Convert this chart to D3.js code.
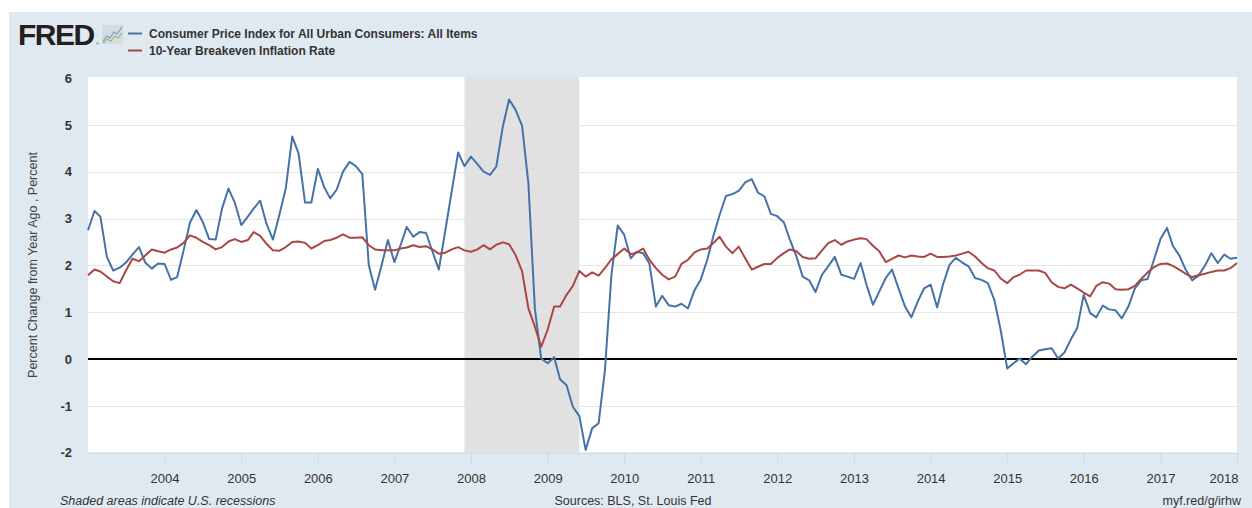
<!DOCTYPE html>
<html>
<head>
<meta charset="utf-8">
<script src="https://cdn.jsdelivr.net/npm/d3@7"></script>
<style>
  html, body { margin: 0; padding: 0; background: #fff; }
  svg { display: block; font-family: "Liberation Sans", Arial, sans-serif; }
</style>
</head>
<body>
<svg id="chart" width="1252" height="508"></svg>
<script>
// Monthly observations, Jan 2003 .. Jan 2018
const firstMonth = '2003-01-01';
const lastMonth = '2018-01-01';

// CPIAUCSL, percent change from year ago
const cpiYoY = [
  2.75, 3.16, 3.04, 2.18, 1.89, 1.95, 2.06, 2.23, 2.39, 2.06, 1.93, 2.04,
  2.03, 1.69, 1.75, 2.32, 2.91, 3.18, 2.93, 2.56, 2.55, 3.21, 3.64, 3.34,
  2.86, 3.04, 3.21, 3.38, 2.89, 2.55, 3.07, 3.64, 4.75, 4.39, 3.34, 3.34,
  4.06, 3.66, 3.43, 3.62, 4.0, 4.21, 4.12, 3.95, 2.0, 1.48, 2.0, 2.54,
  2.07, 2.45, 2.82, 2.61, 2.71, 2.69, 2.3, 1.91, 2.75, 3.57, 4.41, 4.12,
  4.32, 4.16, 4.0, 3.93, 4.11, 4.96, 5.54, 5.32, 4.98, 3.75, 1.07, 0.01,
  -0.09, 0.04, -0.43, -0.56, -1.02, -1.22, -1.94, -1.48, -1.37, -0.24, 1.8, 2.85,
  2.65, 2.15, 2.29, 2.26, 2.04, 1.12, 1.35, 1.15, 1.12, 1.18, 1.08, 1.46,
  1.7, 2.12, 2.61, 3.08, 3.48, 3.52, 3.59, 3.77, 3.84, 3.55, 3.47, 3.1,
  3.05, 2.92, 2.55, 2.19, 1.76, 1.68, 1.43, 1.8, 1.99, 2.18, 1.8, 1.76,
  1.71, 2.05, 1.59, 1.16, 1.44, 1.73, 1.91, 1.51, 1.12, 0.89, 1.23, 1.51,
  1.59, 1.1, 1.59, 2.01, 2.16, 2.06, 1.98, 1.73, 1.69, 1.62, 1.26, 0.62,
  -0.2, -0.09, 0.01, -0.11, 0.05, 0.18, 0.21, 0.23, 0.01, 0.14, 0.42, 0.66,
  1.37, 0.98, 0.89, 1.14, 1.06, 1.04, 0.87, 1.12, 1.51, 1.68, 1.71, 2.12,
  2.56, 2.8, 2.42, 2.21, 1.91, 1.68, 1.78, 1.99, 2.26, 2.05, 2.23, 2.14,
  2.16
];

// T10YIE, monthly
const breakeven10y = [
  1.79, 1.91, 1.87, 1.76, 1.66, 1.62, 1.89, 2.14, 2.09, 2.21, 2.34, 2.3,
  2.27, 2.34, 2.38, 2.48, 2.64, 2.59, 2.5, 2.43, 2.34, 2.39, 2.51, 2.56,
  2.5, 2.54, 2.71, 2.63, 2.46, 2.32, 2.31, 2.39, 2.5, 2.51, 2.48, 2.36,
  2.43, 2.52, 2.54, 2.59, 2.66, 2.59, 2.59, 2.6, 2.43, 2.34, 2.32, 2.32,
  2.32, 2.36, 2.38, 2.43, 2.39, 2.41, 2.34, 2.25, 2.27, 2.34, 2.39, 2.32,
  2.29, 2.34, 2.43, 2.34, 2.44, 2.49, 2.45, 2.22, 1.87, 1.08, 0.69, 0.26,
  0.63, 1.12, 1.12, 1.37, 1.56, 1.88, 1.76, 1.85, 1.78, 1.94, 2.13, 2.24,
  2.36, 2.24, 2.27, 2.36, 2.12, 1.94, 1.8, 1.7, 1.76, 2.03, 2.12, 2.27,
  2.34, 2.36, 2.47, 2.61, 2.4, 2.26, 2.4, 2.15, 1.91, 1.97, 2.03, 2.03,
  2.16, 2.26, 2.34, 2.3, 2.18, 2.14, 2.15, 2.32, 2.48, 2.54, 2.44, 2.51,
  2.55, 2.58, 2.56, 2.42, 2.3, 2.07, 2.14, 2.21, 2.17, 2.21, 2.19, 2.18,
  2.25, 2.18, 2.18, 2.19, 2.21, 2.25, 2.29, 2.19, 2.05, 1.94, 1.89, 1.72,
  1.62, 1.75, 1.8, 1.89, 1.89, 1.89, 1.84, 1.64, 1.54, 1.51, 1.59, 1.51,
  1.42, 1.34, 1.56, 1.64, 1.61, 1.49, 1.48, 1.49, 1.56, 1.71, 1.85, 1.96,
  2.03, 2.04, 1.99, 1.91, 1.82, 1.75, 1.79, 1.82, 1.86, 1.89, 1.89, 1.94,
  2.05
];

const recessions = [['2007-12-01', '2009-06-01']];
const yTicks = [-2, -1, 0, 1, 2, 3, 4, 5, 6];
const xTickYears = [2004, 2005, 2006, 2007, 2008, 2009, 2010, 2011, 2012, 2013, 2014, 2015, 2016, 2017, 2018];

const seriesNames = [
  'Consumer Price Index for All Urban Consumers: All Items',
  '10-Year Breakeven Inflation Rate'
];
const seriesColors = ['#4572a7', '#aa4643'];

const parse = d3.utcParse('%Y-%m-%d');
const months = d3.utcMonth.range(parse(firstMonth), d3.utcMonth.offset(parse(lastMonth), 1));
const series = [cpiYoY, breakeven10y].map((vals) => months.map((date, i) => ({ date, value: vals[i] })));

const svg = d3.select('#chart');
const W = 1252, H = 508;
const plot = { left: 88, right: 1237, top: 78, bottom: 452.7 };

// panel background
svg.append('rect').attr('x', 9).attr('y', 12).attr('width', W - 9).attr('height', H - 12).attr('fill', '#e1e9f0');

const x = d3.scaleUtc().domain([parse(firstMonth), parse(lastMonth)]).range([plot.left, plot.right]);
const y = d3.scaleLinear().domain([-2, 6]).range([plot.bottom, plot.top]);

svg.append('rect')
  .attr('x', plot.left).attr('y', plot.top - 1)
  .attr('width', plot.right - plot.left).attr('height', plot.bottom - plot.top + 1)
  .attr('fill', '#fff');

// recession shading
svg.append('g').selectAll('rect')
  .data(recessions)
  .join('rect')
  .attr('x', (d) => x(parse(d[0])))
  .attr('width', (d) => x(parse(d[1])) - x(parse(d[0])))
  .attr('y', plot.top - 1)
  .attr('height', plot.bottom - plot.top + 1)
  .attr('fill', '#e1e1e1');

// horizontal grid
svg.append('g').selectAll('line')
  .data(yTicks.filter((t) => t > -2 && t < 6 && t !== 0))
  .join('line')
  .attr('x1', plot.left).attr('x2', plot.right)
  .attr('y1', (d) => Math.round(y(d)) + 0.5).attr('y2', (d) => Math.round(y(d)) + 0.5)
  .attr('stroke', '#e6e6e6').attr('stroke-width', 1);

// x axis
const xAxis = svg.append('g')
  .attr('transform', `translate(0,${plot.bottom})`)
  .call(d3.axisBottom(x)
    .tickValues(xTickYears.map((yr) => new Date(Date.UTC(yr, 0, 1))))
    .tickFormat(d3.utcFormat('%Y'))
    .tickSize(10)
    .tickPadding(11));
xAxis.select('.domain').attr('stroke', '#ccd6eb').attr('d', `M${plot.left},0.5H${plot.right}`);
xAxis.selectAll('.tick line').attr('stroke', '#ccd6eb');
xAxis.selectAll('.tick text').attr('fill', '#333').style('font-size', '13px');
// last label kept inside the plot, as FRED does
xAxis.selectAll('.tick text').filter((d) => d.getUTCFullYear() === 2018)
  .attr('text-anchor', 'end').attr('x', 1);

// y axis labels only
const yAxis = svg.append('g')
  .attr('transform', `translate(${plot.left},0)`)
  .call(d3.axisLeft(y).tickValues(yTicks).tickSize(0).tickPadding(16).tickFormat((d) => String(d)));
yAxis.select('.domain').remove();
yAxis.selectAll('.tick text').attr('fill', '#333').style('font-size', '13px').style('font-weight', 'bold');

svg.append('text')
  .attr('transform', `translate(37,265) rotate(-90)`)
  .attr('text-anchor', 'middle')
  .attr('fill', '#444')
  .style('font-size', '12.5px')
  .text('Percent Change from Year Ago , Percent');

// zero line
svg.append('line')
  .attr('x1', plot.left).attr('x2', plot.right)
  .attr('y1', y(0)).attr('y2', y(0))
  .attr('stroke', '#000').attr('stroke-width', 2);

const line = d3.line().x((d) => x(d.date)).y((d) => y(d.value));
svg.append('g').selectAll('path')
  .data(series)
  .join('path')
  .attr('fill', 'none')
  .attr('stroke', (d, i) => seriesColors[i])
  .attr('stroke-width', 2)
  .attr('stroke-linejoin', 'round')
  .attr('d', line);

// FRED logo + small graph icon
svg.append('text')
  .attr('x', 18).attr('y', 45)
  .attr('fill', '#231f20')
  .style('font-size', '30px').style('font-weight', 'bold').style('letter-spacing', '-1.5px')
  .text('FRED');
svg.append('text').attr('x', 96).attr('y', 45).attr('fill', '#231f20').style('font-size', '4px').text('®');
const icon = svg.append('g').attr('transform', 'translate(102,25)');
icon.append('rect').attr('width', 21).attr('height', 19).attr('fill', '#d5dbe1');
icon.append('path').attr('d', 'M1,16 L5,11 L8,13 L12,7 L15,9 L20,2').attr('fill', 'none').attr('stroke', '#7a9cc6').attr('stroke-width', 1.2);
icon.append('path').attr('d', 'M1,18 L5,14 L9,16 L13,11 L16,13 L20,8').attr('fill', 'none').attr('stroke', '#8bbf6a').attr('stroke-width', 1.2);

// legend
const legend = svg.append('g').selectAll('g')
  .data(seriesNames)
  .join('g')
  .attr('transform', (d, i) => `translate(128,${33.5 + i * 17})`);
legend.append('line')
  .attr('x1', 0).attr('x2', 14)
  .attr('stroke', (d, i) => seriesColors[i]).attr('stroke-width', 2);
legend.append('text')
  .attr('x', 21).attr('y', 4)
  .attr('fill', '#333')
  .style('font-size', '12px').style('font-weight', 'bold')
  .text((d) => d);

// footer
const footer = svg.append('g').attr('fill', '#333').style('font-size', '12.5px');
footer.append('text').attr('x', 60).attr('y', 505).style('font-style', 'italic').text('Shaded areas indicate U.S. recessions');
footer.append('text').attr('x', 633).attr('y', 505).attr('text-anchor', 'middle').text('Sources: BLS, St. Louis Fed');
footer.append('text').attr('x', 1241).attr('y', 505).attr('text-anchor', 'end').text('myf.red/g/irhw');
</script>
</body>
</html>
